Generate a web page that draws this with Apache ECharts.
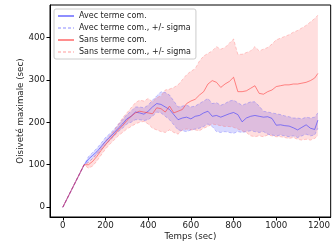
<!DOCTYPE html>
<html><head><meta charset="utf-8">
<script src="https://cdn.jsdelivr.net/npm/echarts@6/dist/echarts.min.js"></script>
<style>html,body{margin:0;padding:0;background:#fff}#c{width:333px;height:247px}</style>
</head><body><div id="c"></div>
<script>
const times = [0,20,40,60,80,100,120,140,160,180,200,220,240,260,280,300,320,340,360,380,400,420,440,460,480,500,520,540,560,580,600,620,640,660,680,700,720,740,760,780,800,820,840,860,880,900,920,940,960,980,1000,1020,1040,1060,1080,1100,1120,1140,1160,1180,1195];
const avecMean = [0,20,40,60,80,100,113,122,131,143,155,165,175,186,196,208,214,224,222,219,226,236,244,242,236,230,218,206,210,212,208,214,216,222,226,214,216,212,216,220,223,218,201,210,214,216,214,212,213,209,193,194,192,191,187,182,188,194,186,183,205];
const avecUpper = [0,20,40,60,80,100,119,129,139,151,164,173,183,195,206,218,226,236,236,234,240,252,262,272,270,264,250,236,238,240,236,238,244,250,256,244,246,240,244,250,252,246,240,244,248,248,238,226,224,222,220,218,215,213,210,210,208,212,210,212,222];
const avecLower = [0,20,40,60,80,100,106,115,124,136,147,157,167,178,186,196,200,206,206,204,206,214,224,222,214,206,194,182,180,178,182,184,186,190,196,190,178,176,178,176,174,178,176,178,180,178,176,178,172,170,168,170,168,166,168,164,168,172,168,170,186];
const sansMean = [0,20,40,60,80,100,100,108,120,134,147,159,170,182,192,204,214,222,226,224,222,220,234,232,224,238,222,226,230,244,250,254,264,272,290,298,294,282,290,296,306,272,272,274,280,286,268,266,272,276,284,286,288,288,290,290,292,294,298,304,315];
const sansUpper = [0,20,40,60,80,100,105,115,128,142,156,168,180,195,210,222,234,246,252,250,256,248,258,262,276,278,282,288,300,312,320,326,344,356,362,368,378,372,376,386,396,360,360,364,368,378,368,372,376,384,394,398,402,406,412,416,422,428,436,444,452];
const sansLower = [0,20,40,60,80,100,92,97,109,123,137,148,158,168,176,184,190,196,200,202,196,186,182,178,176,182,176,172,182,184,182,182,180,186,190,196,194,192,190,190,188,184,180,176,168,166,168,166,170,168,166,166,164,162,164,160,158,160,158,162,168];
const xTicks = [0,200,400,600,800,1000,1200];
const yTicks = [0,100,200,300,400];
const names = ['Avec terme com.', 'Avec terme com., +/- sigma', 'Sans terme com.', 'Sans terme com., +/- sigma'];

const FONT = 'DejaVu Sans';
function pairs(v){ return times.map((t,i)=>[t, v[i]]); }
function band(lo, hi, color){
  return {
    type:'custom', silent:true, z:1,
    data: times.map((t,i)=>[t, lo[i], hi[i]]),
    encode:{x:0, y:[1,2]},
    renderItem:function(params, api){
      if (params.dataIndex !== 0) return null;
      const top = times.map((t,i)=>api.coord([t, hi[i]]));
      const bot = times.map((t,i)=>api.coord([t, lo[i]])).reverse();
      return {type:'polygon', shape:{points: top.concat(bot)}, style:{fill:color}};
    }
  };
}
function line(name, v, color, dashed, z){
  return {type:'line', name:name, data:pairs(v), symbol:'none', z:z, silent:true,
    lineStyle:{color:color, width:1, type: dashed ? [3,2] : 'solid'}, itemStyle:{color:color}};
}
const plain = v => String(v);
const chart = echarts.init(document.getElementById('c'), null, {renderer:'canvas'});
chart.setOption({
  animation:false,
  grid:{left:50, top:5, right:-2, bottom:30, show:true, borderColor:'#000', borderWidth:1, backgroundColor:'transparent'},
  legend:{
    data:names, orient:'vertical', left:54, top:9,
    itemWidth:16, itemHeight:10, itemGap:2, itemTextGap:6,
    padding:[2,5,2,3], borderColor:'#ccc', borderWidth:1, borderRadius:2,
    backgroundColor:'rgba(255,255,255,0.85)',
    itemStyle:{opacity:0},
    textStyle:{fontFamily:FONT, fontSize:8, color:'#222', lineHeight:10},
    selectedMode:false
  },
  xAxis:{type:'value', min:-60, max:1255, name:'Temps (sec)', nameGap:15, nameLocation:'middle',
    nameMoveOverlap:false,
    nameTextStyle:{fontFamily:FONT, fontSize:8.7, color:'#222'},
    axisLine:{onZero:false, lineStyle:{color:'#000', width:1}},
    axisTick:{customValues:xTicks, length:3.5, lineStyle:{color:'#000'}},
    axisLabel:{customValues:xTicks, formatter:plain, fontFamily:FONT, fontSize:8.7, color:'#222', margin:4},
    splitLine:{show:false}},
  yAxis:{type:'value', min:-23, max:476, name:'Oisiveté maximale (sec)', nameGap:25, nameLocation:'middle',
    nameMoveOverlap:false,
    nameTextStyle:{fontFamily:FONT, fontSize:8.7, color:'#222'},
    axisLine:{onZero:false, lineStyle:{color:'#000', width:1}},
    axisTick:{customValues:yTicks, length:3.5, lineStyle:{color:'#000'}},
    axisLabel:{customValues:yTicks, formatter:plain, fontFamily:FONT, fontSize:8.7, color:'#222', margin:5},
    splitLine:{show:false}},
  series:[
    band(avecLower, avecUpper, 'rgba(0,0,255,0.15)'),
    band(sansLower, sansUpper, 'rgba(255,0,0,0.13)'),
    line(names[1], avecUpper, 'rgba(90,90,255,0.35)', true, 3),
    line(names[1], avecLower, 'rgba(90,90,255,0.35)', true, 3),
    line(names[3], sansUpper, 'rgba(255,90,90,0.3)', true, 3),
    line(names[3], sansLower, 'rgba(255,90,90,0.3)', true, 3),
    line(names[0], avecMean, 'rgba(50,50,255,0.55)', false, 4),
    line(names[2], sansMean, 'rgba(255,50,50,0.55)', false, 4)
  ]
});
</script></body></html>
